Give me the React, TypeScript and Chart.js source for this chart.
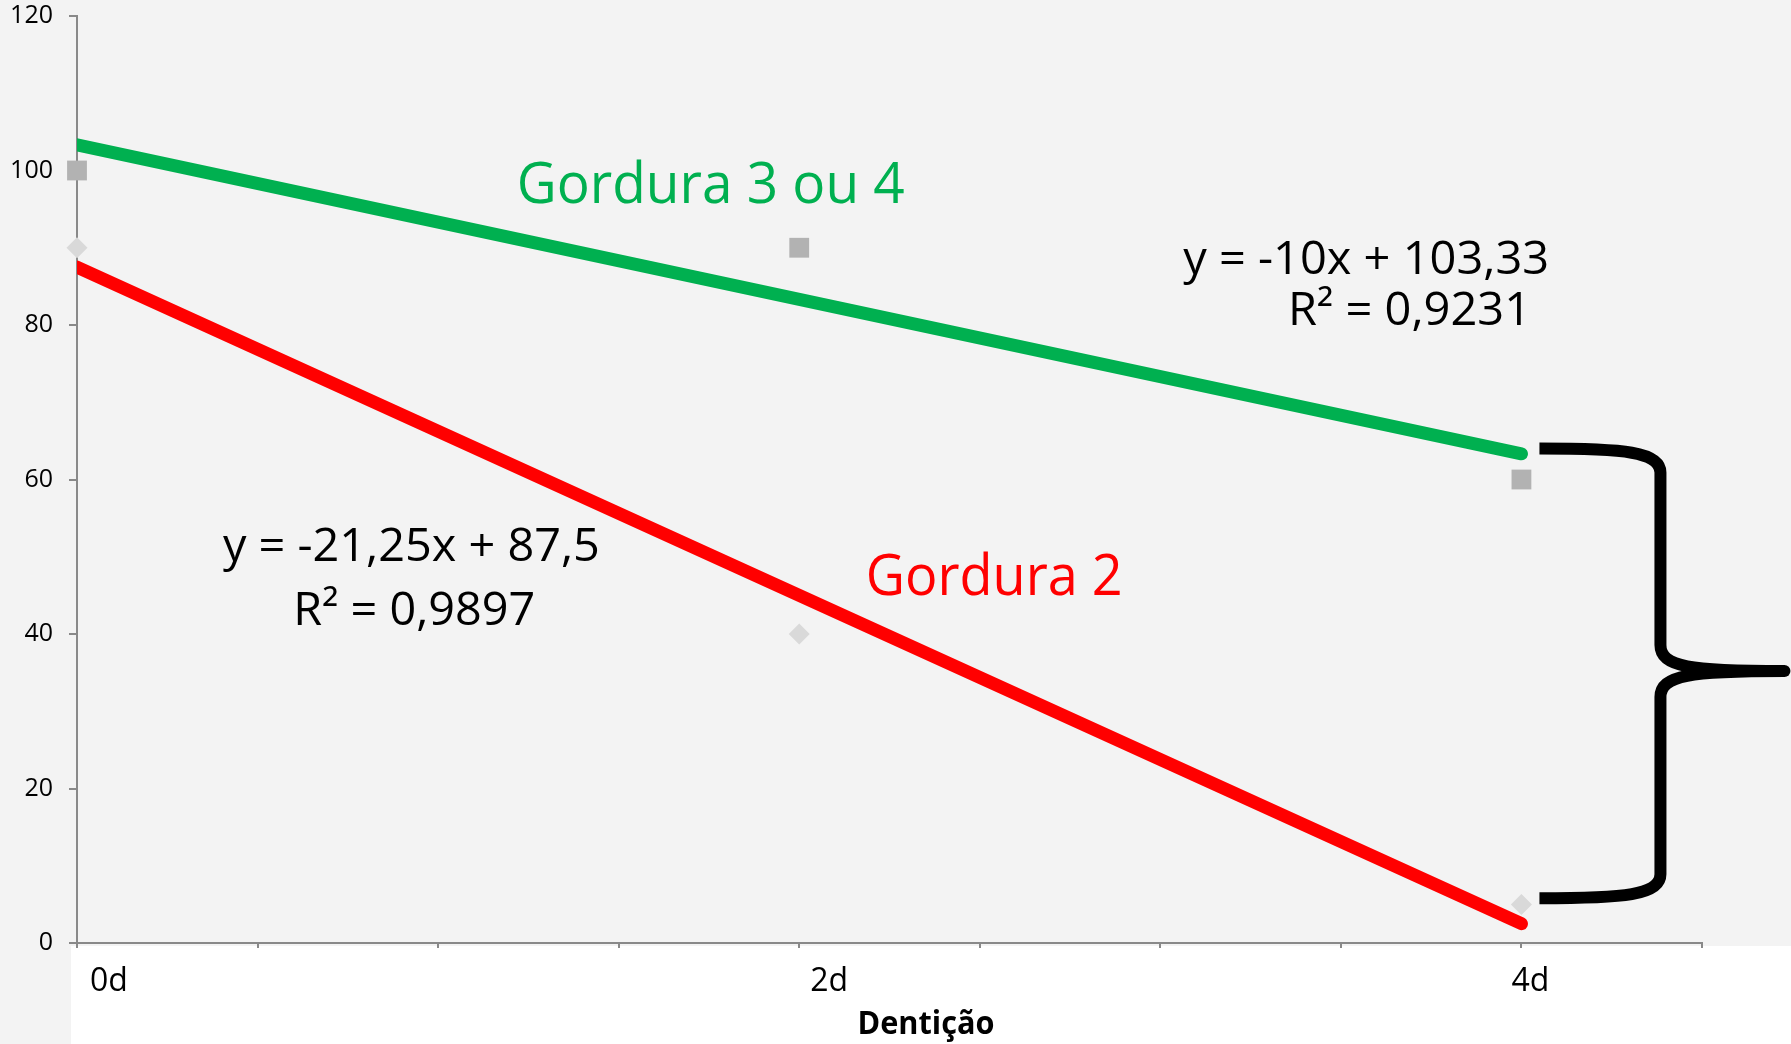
import React, { useEffect, useRef } from "react";
import { Chart, registerables } from "chart.js";

Chart.register(...registerables);

// ---- data ----
const dayValues = [0, 2, 4];
const xTickLabels = ["0d", "2d", "4d"];
const gordura34 = [100, 90, 60];
const gordura2 = [90, 40, 5];
const trendX = [0, 4];
const trend34 = [103.33, 63.33];
const trend2 = [87.5, 2.5];
const labelGordura34 = "Gordura 3 ou 4";
const labelGordura2 = "Gordura 2";
const eq34 = ["y = -10x + 103,33", "R² = 0,9231"];
const eq2 = ["y = -21,25x + 87,5", "R² = 0,9897"];
const xAxisTitle = "Dentição";

const FONT = '"Open Sans", "Noto Sans", sans-serif';

function fitText(
  ctx: CanvasRenderingContext2D,
  text: string,
  cx: number,
  baseline: number,
  width: number,
  size: number,
  weight: string,
  color: string
) {
  ctx.save();
  ctx.font = `${weight} ${size}px ${FONT}`;
  const w = ctx.measureText(text).width || 1;
  ctx.translate(cx, baseline);
  ctx.scale(width / w, 1);
  ctx.textAlign = "center";
  ctx.textBaseline = "alphabetic";
  ctx.fillStyle = color;
  ctx.fillText(text, 0, 0);
  ctx.restore();
}

const backgroundPlugin = {
  id: "bg",
  beforeDraw(chart: any) {
    const { ctx, width, height, chartArea } = chart;
    ctx.save();
    ctx.fillStyle = "#f3f3f3";
    ctx.fillRect(0, 0, width, height);
    ctx.fillStyle = "#ffffff";
    ctx.fillRect(chartArea.left - 6, chartArea.bottom + 3, width, height);
    ctx.restore();
  },
};

const annotationPlugin = {
  id: "annot",
  afterDraw(chart: any) {
    const { ctx } = chart;
    const xs = chart.scales.x;
    const ys = chart.scales.y;
    const px = (v: number) => xs.getPixelForValue(v);
    const py = (v: number) => ys.getPixelForValue(v);

    // x tick labels
    const labelOffsets = [32, 30, 9];
    dayValues.forEach((d, i) => {
      ctx.save();
      ctx.font = `400 32px ${FONT}`;
      ctx.fillStyle = "#000";
      ctx.textAlign = "center";
      ctx.textBaseline = "alphabetic";
      ctx.fillText(xTickLabels[i], px(d) + labelOffsets[i], chart.chartArea.bottom + 48);
      ctx.restore();
    });

    // axis title
    fitText(ctx, xAxisTitle, 926, chart.chartArea.bottom + 91, 137, 33, "700", "#000");

    // series labels
    fitText(ctx, labelGordura34, px(1.755), py(95.8), 388, 57, "400", "#00b050");
    fitText(ctx, labelGordura2, px(2.54), py(45.05), 257, 57, "400", "#ff0000");

    // equations
    fitText(ctx, eq34[0], px(3.57), py(86.6), 366, 46, "400", "#000");
    fitText(ctx, eq34[1], px(3.69), py(80.0), 243, 46, "400", "#000");
    fitText(ctx, eq2[0], px(0.926), py(49.4), 377, 46, "400", "#000");
    fitText(ctx, eq2[1], px(0.934), py(41.2), 242, 46, "400", "#000");

    // curly brace
    const x0 = px(4) + 18;
    const xv = x0 + 121;
    const xt = x0 + 245;
    const yTop = py(64);
    const yMid = py(35.2);
    const yBot = py(5.8);
    ctx.save();
    ctx.strokeStyle = "#000";
    ctx.lineWidth = 12;
    ctx.lineCap = "butt";
    ctx.lineJoin = "round";
    ctx.beginPath();
    ctx.moveTo(x0, yTop);
    ctx.bezierCurveTo(x0 + 85, yTop, xv, yTop + 3, xv, yTop + 24);
    ctx.lineTo(xv, yMid - 26);
    ctx.bezierCurveTo(xv, yMid - 4, xv + 30, yMid, xt, yMid);
    ctx.stroke();
    ctx.beginPath();
    ctx.moveTo(xt, yMid);
    ctx.bezierCurveTo(xv + 30, yMid, xv, yMid + 4, xv, yMid + 26);
    ctx.lineTo(xv, yBot - 24);
    ctx.bezierCurveTo(xv, yBot - 3, x0 + 85, yBot, x0, yBot);
    ctx.stroke();
    ctx.beginPath();
    ctx.arc(xt, yMid, 6, 0, Math.PI * 2);
    ctx.fillStyle = "#000";
    ctx.fill();
    ctx.restore();
  },
};

export default function App() {
  const canvasRef = useRef<HTMLCanvasElement | null>(null);

  useEffect(() => {
    const canvas = canvasRef.current;
    if (!canvas) return;
    const toPts = (xsArr: number[], ysArr: number[]) =>
      xsArr.map((x, i) => ({ x, y: ysArr[i] }));

    const chart = new Chart(canvas, {
      type: "scatter",
      data: {
        datasets: [
          {
            type: "line",
            label: "Linear (Gordura 3 ou 4)",
            data: toPts(trendX, trend34),
            borderColor: "#00b050",
            backgroundColor: "#00b050",
            borderWidth: 13,
            borderCapStyle: "round",
            pointRadius: 0,
            fill: false,
            clip: 0,
          } as any,
          {
            type: "line",
            label: "Linear (Gordura 2)",
            data: toPts(trendX, trend2),
            borderColor: "#ff0000",
            backgroundColor: "#ff0000",
            borderWidth: 13,
            borderCapStyle: "round",
            pointRadius: 0,
            fill: false,
            clip: 0,
          } as any,
          {
            label: "Gordura 3 ou 4",
            data: toPts(dayValues, gordura34),
            pointStyle: "rect",
            pointRadius: 14,
            backgroundColor: "#b2b2b2",
            borderWidth: 0,
            clip: false,
          } as any,
          {
            label: "Gordura 2",
            data: toPts(dayValues, gordura2),
            pointStyle: "rectRot",
            pointRadius: 10.5,
            backgroundColor: "#d9d9d9",
            borderWidth: 0,
            clip: false,
          } as any,
        ],
      },
      options: {
        responsive: false,
        animation: false,
        devicePixelRatio: 1,
        layout: { padding: { top: 16, right: 89, left: 0, bottom: 0 } },
        plugins: {
          legend: { display: false },
          tooltip: { enabled: false },
          title: { display: false },
        },
        scales: {
          x: {
            type: "linear",
            min: 0,
            max: 4.5,
            ticks: {
              stepSize: 0.5,
              callback: () => "",
              padding: 0,
            },
            grid: {
              drawOnChartArea: false,
              drawTicks: true,
              tickLength: 5,
              color: "#898989",
              lineWidth: 2,
            },
            border: { color: "#898989", width: 2 },
            afterFit: (s: any) => {
              s.height = 101;
              s.paddingLeft = 0;
              s.paddingRight = 0;
            },
          } as any,
          y: {
            min: 0,
            max: 120,
            ticks: {
              stepSize: 20,
              padding: 16,
              color: "#000",
              font: { family: FONT, size: 25 },
            },
            grid: {
              drawOnChartArea: false,
              drawTicks: true,
              tickLength: 8,
              color: "#898989",
              lineWidth: 2,
            },
            border: { color: "#898989", width: 2 },
            afterFit: (s: any) => {
              s.width = 77;
              s.paddingTop = 0;
              s.paddingBottom = 0;
            },
          } as any,
        },
      },
      plugins: [backgroundPlugin, annotationPlugin],
    });

    return () => {
      chart.destroy();
    };
  }, []);

  return (
    <div style={{ position: "fixed", left: 0, top: 0, width: 1791, height: 1044 }}>
      <canvas ref={canvasRef} width={1791} height={1044} style={{ display: "block" }} />
    </div>
  );
}
